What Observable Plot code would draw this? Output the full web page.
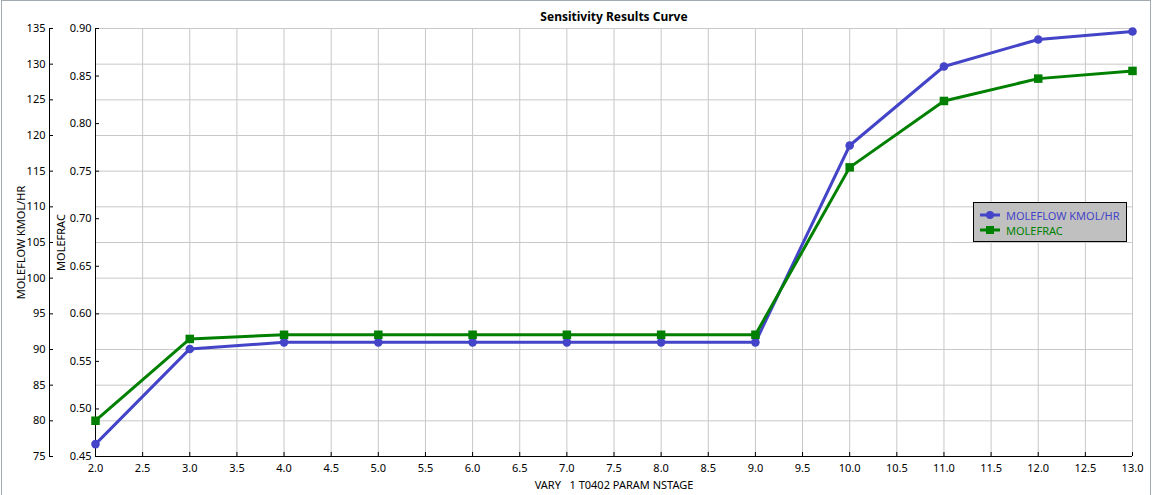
<!DOCTYPE html>
<html>
<head>
<meta charset="utf-8">
<script src="https://cdn.jsdelivr.net/npm/d3@7"></script>
<script src="https://cdn.jsdelivr.net/npm/@observablehq/plot@0.6"></script>
<style>
  html, body { margin: 0; padding: 0; background: #fff; }
  #wrap { position: relative; width: 1155px; height: 495px; overflow: hidden; }
  #border { position: absolute; left: 1px; top: 0; width: 1150px; height: 520px; border: 1px solid #a3abb3; box-sizing: border-box; pointer-events: none; }
  svg text { white-space: pre; }
  #legend { position: absolute; left: 973px; top: 202px; width: 154px; height: 40px; box-sizing: border-box;
    background: #c0c0c0; border: 1px solid #000; font-family: "Noto Sans", sans-serif; font-size: 11px; }
  .item { position: absolute; left: 6px; height: 14px; display: flex; align-items: center; }
  .item span { margin-left: 6px; }
</style>
</head>
<body>
<div id="wrap"><div id="chart"></div><div id="border"></div><div id="legend"></div></div>
<script>
const xValues = [2, 3, 4, 5, 6, 7, 8, 9, 10, 11, 12, 13];
const moleflow = [76.74, 90.08, 91.0, 91.0, 91.0, 91.0, 91.0, 91.0, 118.6, 129.67, 133.46, 134.58];
const molefrac = [0.4876, 0.5736, 0.578, 0.578, 0.578, 0.578, 0.578, 0.578, 0.754, 0.8238, 0.8473, 0.8554];
const xTicks = [2.0, 2.5, 3.0, 3.5, 4.0, 4.5, 5.0, 5.5, 6.0, 6.5, 7.0, 7.5, 8.0, 8.5, 9.0, 9.5, 10.0, 10.5, 11.0, 11.5, 12.0, 12.5, 13.0];
const flowTicks = [75, 80, 85, 90, 95, 100, 105, 110, 115, 120, 125, 130, 135];
const fracTicks = [0.45, 0.50, 0.55, 0.60, 0.65, 0.70, 0.75, 0.80, 0.85, 0.90];
const seriesNames = ["MOLEFLOW KMOL/HR", "MOLEFRAC"];
const title = "Sensitivity Results Curve";
const xLabel = "VARY   1 T0402 PARAM NSTAGE";

const BLUE = "#4444c8", GREEN = "#008000";
const W = 1155, H = 495, mL = 95, mR = 23, mT = 28, mB = 39;
const plotW = W - mL - mR, plotH = H - mT - mB;
const flowDom = [75, 135], fracDom = [0.45, 0.90];
const toFlow = v => flowDom[0] + (v - fracDom[0]) * (flowDom[1] - flowDom[0]) / (fracDom[1] - fracDom[0]);
const toFrac = v => fracDom[0] + (v - flowDom[0]) * (fracDom[1] - fracDom[0]) / (flowDom[1] - flowDom[0]);

const flowData = xValues.map((x, i) => ({x, y: moleflow[i]}));
const fracData = xValues.map((x, i) => ({x, y: toFlow(molefrac[i])}));

const chart = Plot.plot({
  width: W, height: H,
  marginLeft: mL, marginRight: mR, marginTop: mT, marginBottom: mB,
  style: {fontFamily: "'Noto Sans', sans-serif", fontSize: "11px", color: "#000", background: "#fff"},
  x: {domain: [2, 13]},
  y: {domain: flowDom},
  marks: [
    Plot.gridX(xTicks, {stroke: "#c8c8c8", strokeOpacity: 1}),
    Plot.gridY(flowTicks, {stroke: "#c8c8c8", strokeOpacity: 1}),
    Plot.ruleX([2], {stroke: "#000"}),
    Plot.ruleX([2], {stroke: "#000", dx: -46}),
    Plot.ruleY([75], {stroke: "#000"}),
    Plot.tickX(xTicks, {x: d => d, stroke: "#000", insetTop: plotH - 4}),
    Plot.tickY(fracTicks.map(toFlow), {y: d => d, stroke: "#000", insetRight: plotW - 4}),
    Plot.tickY(flowTicks, {y: d => d, stroke: "#000", insetRight: plotW - 4, dx: -46}),
    Plot.axisX({ticks: xTicks, tickSize: 0, tickPadding: 8, tickFormat: d => d.toFixed(1), label: null}),
    Plot.axisY({ticks: fracTicks.map(toFlow), tickSize: 0, tickPadding: 4, tickFormat: d => toFrac(d).toFixed(2), label: null}),
    Plot.axisY({ticks: flowTicks, tickSize: 0, tickPadding: 4, dx: -46, tickFormat: d => String(d), label: null}),
    Plot.text([title], {frameAnchor: "top", lineAnchor: "middle", dy: -11, fontWeight: "bold", fontSize: 12}),
    Plot.text([xLabel], {frameAnchor: "bottom", lineAnchor: "middle", dy: 29}),
    Plot.text([seriesNames[0]], {frameAnchor: "left", textAnchor: "middle", lineAnchor: "middle", rotate: -90, dx: -74}),
    Plot.text([seriesNames[1]], {frameAnchor: "left", textAnchor: "middle", lineAnchor: "middle", rotate: -90, dx: -34}),
    Plot.line(flowData, {x: "x", y: "y", stroke: BLUE, strokeWidth: 3}),
    Plot.line(fracData, {x: "x", y: "y", stroke: GREEN, strokeWidth: 3}),
    Plot.dot(flowData, {x: "x", y: "y", r: 4.3, fill: BLUE, symbol: "circle"}),
    Plot.dot(fracData, {x: "x", y: "y", r: 4.8, fill: GREEN, symbol: "square"})
  ]
});
document.getElementById("chart").appendChild(chart);

const legend = document.getElementById("legend");
[[seriesNames[0], BLUE, "circle"], [seriesNames[1], GREEN, "square"]].forEach(([name, color, shape], i) => {
  const item = document.createElement("div");
  item.className = "item";
  item.style.top = (5 + i * 15) + "px";
  const marker = shape === "circle"
    ? `<circle cx="10" cy="7" r="4" fill="${color}"/>`
    : `<rect x="6" y="3" width="8" height="8" fill="${color}"/>`;
  item.innerHTML = `<svg width="20" height="14"><line x1="0" x2="20" y1="7" y2="7" stroke="${color}" stroke-width="3"/>${marker}</svg><span style="color:${color}">${name}</span>`;
  legend.appendChild(item);
});
</script>
</body>
</html>
